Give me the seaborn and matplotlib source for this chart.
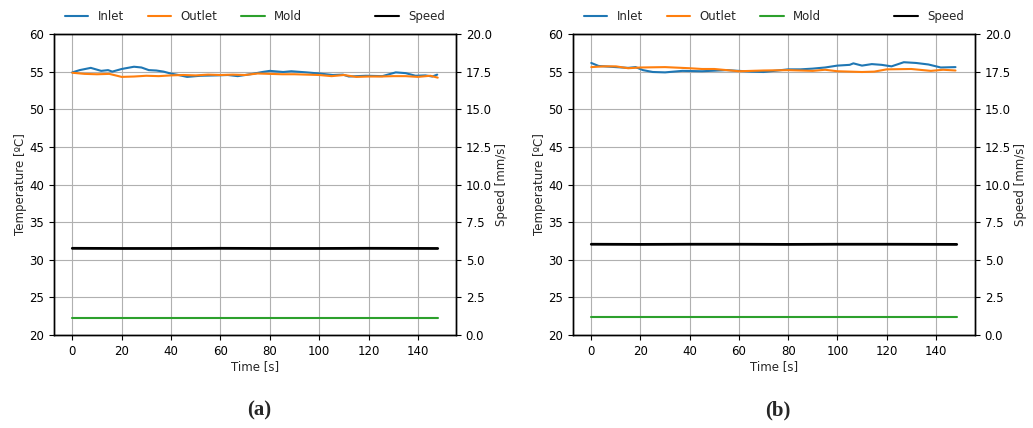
import matplotlib
matplotlib.use("Agg")
import matplotlib.pyplot as plt
import seaborn as sns

# ---------------- data ----------------
# Panel (a)
t_in_a = [0, 3, 7.5, 11.7, 14.5, 16.2, 20, 25, 28, 31, 34, 37, 39.8, 43, 46.5, 51.9, 58.6, 63, 67, 73,
          77, 80, 85.4, 88.7, 94.8, 100, 105.5, 109.6, 112, 118.9, 125.6, 131, 135, 139, 143, 145.8, 147.8]
inlet_a = [54.9, 55.2, 55.5, 55.1, 55.2, 55.0, 55.35, 55.65, 55.55, 55.2, 55.15, 55.0, 54.75, 54.55, 54.3, 54.45, 54.5, 54.55, 54.4, 54.7,
           54.95, 55.1, 54.95, 55.05, 54.9, 54.75, 54.55, 54.6, 54.35, 54.45, 54.4, 54.9, 54.8, 54.45, 54.5, 54.35, 54.6]
t_out_a = [0, 5, 10, 15, 20, 25, 30, 35, 40, 45, 50, 55, 60, 65, 70, 75, 80, 85, 90, 95, 100, 105, 110, 115,
           120, 125, 130, 135, 140, 145, 148]
outlet_a = [54.85, 54.7, 54.65, 54.7, 54.3, 54.35, 54.45, 54.4, 54.5, 54.55, 54.5, 54.6, 54.55, 54.6, 54.55, 54.75,
            54.7, 54.65, 54.65, 54.6, 54.55, 54.4, 54.55, 54.3, 54.35, 54.35, 54.4, 54.4, 54.3, 54.45, 54.2]
t_mold_a = [0, 148]
mold_a = [22.3, 22.3]
t_speed_a = [0, 20, 40, 60, 80, 100, 120, 148]
speed_a = [5.76, 5.75, 5.75, 5.76, 5.75, 5.75, 5.76, 5.75]

# Panel (b)
t_in_b = [0, 3, 10, 15, 18, 21, 25, 30, 37, 45, 55, 65, 70, 80, 85, 90, 95, 100, 105, 106.5, 110, 114,
          118, 122, 127, 132, 137, 142, 148]
inlet_b = [56.15, 55.75, 55.6, 55.5, 55.6, 55.2, 54.95, 54.9, 55.1, 55.05, 55.2, 55.0, 54.95, 55.3, 55.3, 55.4,
           55.55, 55.8, 55.9, 56.1, 55.8, 56.0, 55.9, 55.7, 56.25, 56.15, 55.95, 55.55, 55.6]
t_out_b = [0, 5, 10, 15, 20, 30, 40, 45, 50, 60, 70, 80, 90, 95, 100, 110, 115, 120, 130, 138, 143, 148]
outlet_b = [55.6, 55.7, 55.7, 55.45, 55.55, 55.6, 55.45, 55.35, 55.35, 55.05, 55.15, 55.2, 55.1, 55.25, 55.05,
            54.95, 55.0, 55.3, 55.35, 55.1, 55.25, 55.15]
t_mold_b = [0, 148.5]
mold_b = [22.4, 22.4]
t_speed_b = [0, 20, 40, 60, 80, 100, 120, 148.5]
speed_b = [6.03, 6.02, 6.03, 6.03, 6.02, 6.03, 6.03, 6.02]

temp_ticks = [20, 25, 30, 35, 40, 45, 50, 55, 60]
speed_ticks = [0.0, 2.5, 5.0, 7.5, 10.0, 12.5, 15.0, 17.5, 20.0]
panel_labels = ["(a)", "(b)"]
series_names = ["Inlet", "Outlet", "Mold", "Speed"]

# ---------------- style ----------------
sns.set_style("ticks")
plt.rcParams.update({
    "font.family": ["DejaVu Sans"],
    "font.size": 8.5,
    "axes.edgecolor": "black",
    "axes.linewidth": 1.0,
    "xtick.color": "black",
    "ytick.color": "black",
    "xtick.direction": "out",
    "ytick.direction": "out",
    "xtick.major.size": 3.5,
    "ytick.major.size": 3.5,
    "grid.color": "#b0b0b0",
    "grid.linewidth": 0.8,
})

colors = ["#1f77b4", "#ff7f0e", "#2ca02c", "black"]

fig = plt.figure(figsize=(10.33, 4.28), dpi=100)
positions = [[54 / 1033, 93 / 428, 402 / 1033, 301 / 428],
             [573 / 1033, 93 / 428, 402 / 1033, 301 / 428]]

panels = [
    (t_in_a, inlet_a, t_out_a, outlet_a, t_mold_a, mold_a, t_speed_a, speed_a),
    (t_in_b, inlet_b, t_out_b, outlet_b, t_mold_b, mold_b, t_speed_b, speed_b),
]

for i, (ti, yi, to, yo, tm, ym, ts, ys) in enumerate(panels):
    ax = fig.add_axes(positions[i])
    ax2 = ax.twinx()
    sns.lineplot(x=ti, y=yi, ax=ax, color=colors[0], label=series_names[0], linewidth=1.5, legend=False)
    sns.lineplot(x=to, y=yo, ax=ax, color=colors[1], label=series_names[1], linewidth=1.5, legend=False)
    sns.lineplot(x=tm, y=ym, ax=ax, color=colors[2], label=series_names[2], linewidth=1.5, legend=False)
    sns.lineplot(x=ts, y=ys, ax=ax2, color=colors[3], label=series_names[3], linewidth=2.0, legend=False)

    ax.set_ylim(20, 60)
    ax.set_yticks(temp_ticks)
    ax2.set_ylim(0, 20)
    ax2.set_yticks(speed_ticks)
    ax2.set_yticklabels([f"{v:.1f}" for v in speed_ticks])
    ax.set_xticks([0, 20, 40, 60, 80, 100, 120, 140])
    ax.margins(x=0.05)
    ax.grid(True)
    ax.set_axisbelow(True)
    for sp in ax.spines.values():
        sp.set_visible(True)
        sp.set_color("black")
    for sp in ax2.spines.values():
        sp.set_visible(True)
        sp.set_color("black")

    ax.set_xlabel("Time [s]", labelpad=2)
    ax.set_ylabel("Temperature [ºC]", labelpad=2)
    ax2.set_ylabel("Speed [mm/s]", labelpad=2)

    h1, l1 = ax.get_legend_handles_labels()
    h2, l2 = ax2.get_legend_handles_labels()
    ax.legend(h1, l1, loc="lower left", bbox_to_anchor=(0, 1.0), ncol=3, frameon=False)
    leg2 = ax2.legend(h2, l2, loc="lower right", bbox_to_anchor=(1, 1.0), ncol=1, frameon=False)
    for lh in leg2.get_lines():
        lh.set_linewidth(1.5)

    fig.text(positions[i][0] + positions[i][2] / 2 + 4 / 1033, 0.04, panel_labels[i],
             ha="center", va="center", fontsize=15, fontweight="bold", family="Liberation Serif")

fig.savefig("out.png", dpi=100)
